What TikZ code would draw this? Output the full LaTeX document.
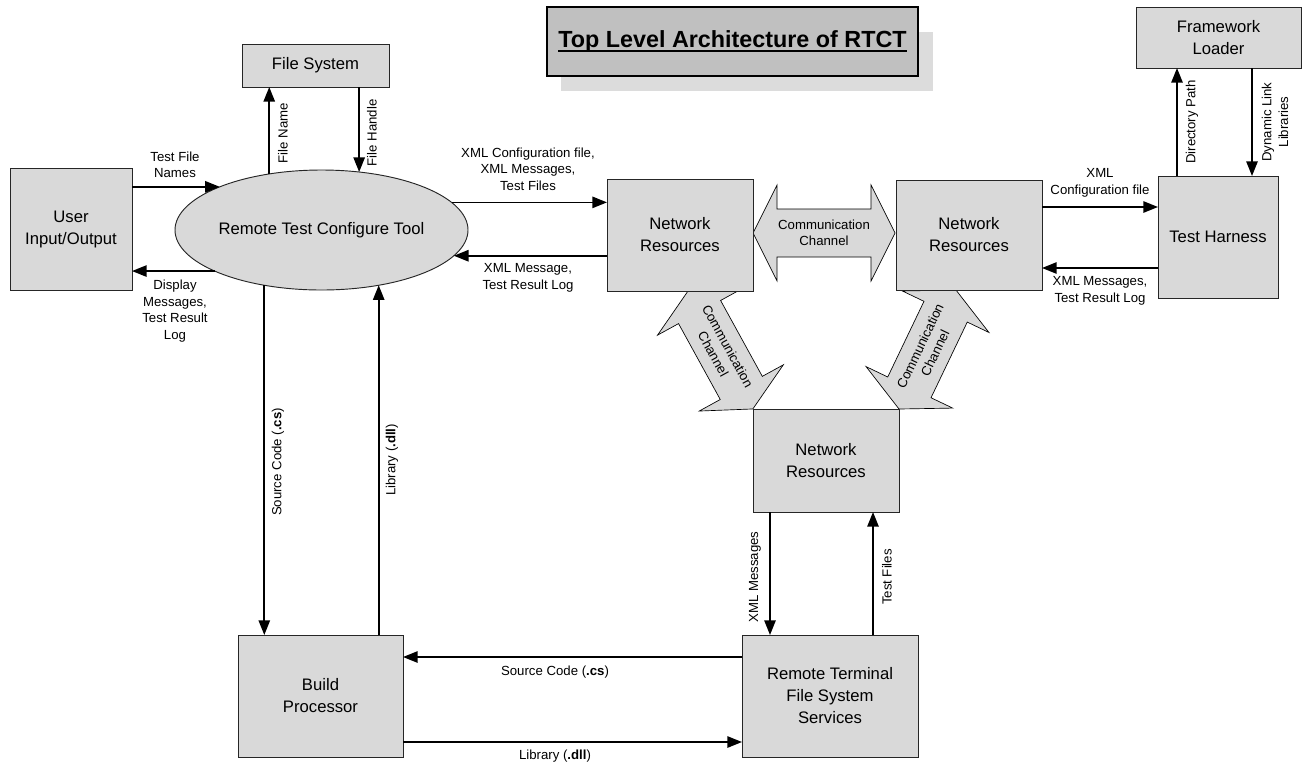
\documentclass[tikz,border=0pt]{standalone}
\usepackage{fontspec}
\setmainfont{Liberation Sans}
\usetikzlibrary{arrows.meta,shapes.geometric,calc}
\definecolor{boxgray}{RGB}{217,217,217}
\definecolor{titlegray}{RGB}{192,192,192}
\definecolor{shadowgray}{RGB}{220,220,220}
\newcommand\thickul[1]{\setbox0\hbox{#1}\rlap{\rule[-3.2pt]{\wd0}{1.5pt}}\box0}
\newcommand\chanarrow[3]{%
  \begin{scope}[shift={#1},rotate=#2]
    \draw[chan] (0,0) -- (24,48) -- (24,24) -- (#3-24,24) -- (#3-24,48) -- (#3,0)
      -- (#3-24,-48) -- (#3-24,-24) -- (24,-24) -- (24,-48) -- cycle;
  \end{scope}}
\begin{document}
\begin{tikzpicture}[x=0.75pt,y=-0.75pt,
  box/.style={draw=black!85, line width=0.7pt, fill=boxgray, inner sep=0pt, outer sep=0pt,
    align=center, font=\fontsize{12.5}{16.5}\selectfont},
  lbl/.style={align=center, inner sep=0pt, font=\fontsize{9.9}{12.4}\selectfont},
  arr/.style={line width=1.3pt, -{Triangle[length=11pt,width=8.5pt]}},
  chan/.style={draw=black, line width=0.5pt, fill=boxgray},
]
\useasboundingbox (0,0) rectangle (1308,765);

% title
\fill[shadowgray] (561,32) rectangle (933,91);
\node[draw=black, line width=0.8pt, fill=titlegray, inner sep=0pt, outer sep=0pt,
  minimum width=278.25pt, minimum height=51.75pt] (title) at (732.5,41.5)
  {\fontsize{17.5}{20}\selectfont\bfseries\thickul{Top Level Architecture of RTCT}};

% communication channels (drawn below the boxes)
\chanarrow{(753,233)}{0}{142}
\chanarrow{(688,291)}{-61.2}{134.6}
\chanarrow{(899,409)}{64.4}{131.9}
\node[lbl] (cc1) at (824,233) {Communication\\Channel};
\node[lbl, rotate=-61.2] (cc2) at (720.5,350) {Communication\\Channel};
\node[lbl, rotate=64.4] (cc3) at (927.5,349.5) {Communication\\Channel};

% boxes
\node[box, minimum width=110.25pt, minimum height=32.25pt] (fs) at (315.5,65.5) {File System};
\node[box, minimum width=91.5pt, minimum height=91.5pt] (uio) at (71,229) {User\\Input/Output};
\node[box, ellipse, minimum width=219.75pt, minimum height=90pt] (rtct) at (321.5,230) {};
\node[align=center, inner sep=0pt, font=\fontsize{12.5}{16.5}\selectfont] (rtcttext) at (rtct.center) {Remote Test Configure Tool};
\node[box, minimum width=109.5pt, minimum height=84pt] (nr1) at (680,235) {Network\\Resources};
\node[box, minimum width=109.5pt, minimum height=82.5pt] (nr2) at (969,235) {Network\\Resources};
\node[box, minimum width=90pt, minimum height=91.5pt] (th) at (1218,237) {Test Harness};
\node[box, minimum width=123.75pt, minimum height=45.75pt] (fl) at (1218.5,37.5) {Framework\\Loader};
\node[box, minimum width=109.5pt, minimum height=77.25pt] (nr3) at (826,460.5) {Network\\Resources};
\node[box, minimum width=123.75pt, minimum height=91.5pt] (bp) at (320.5,696) {Build\\Processor};
\node[box, minimum width=132pt, minimum height=91.5pt] (rt) at (830,696) {Remote Terminal\\File System\\Services};

% connectors
\draw[arr] (uio.east |- rtct.157.18) -- (rtct.157.18);
\draw[arr] (rtct.201.88) -- (uio.east |- rtct.201.88);
\draw[arr] (rtct.133.15) -- (fs.south -| rtct.133.15);
\draw[arr] (fs.south -| rtct.57.87) -- (rtct.57.87);
\draw[arr] (rtct.224.43) -- (bp.north -| rtct.224.43);
\draw[arr] (bp.north -| rtct.-44.43) -- (rtct.-44.43);
\draw[arr] (rtct.12.19) -- (nr1.west |- rtct.12.19);
\draw[arr] (nr1.west |- rtct.-11.66) -- (rtct.-11.66);
\coordinate (yA) at (0,207);
\coordinate (yB) at (0,268);
\draw[arr] (nr2.east |- yA) -- (th.west |- yA);
\draw[arr] (th.west |- yB) -- (nr2.east |- yB);
\coordinate (xA) at (1177,0);
\coordinate (xB) at (1252,0);
\draw[arr] (th.north -| xA) -- (fl.south -| xA);
\draw[arr] (fl.south -| xB) -- (th.north -| xB);
\coordinate (xC) at (770,0);
\coordinate (xD) at (873,0);
\draw[arr] (nr3.south -| xC) -- (rt.north -| xC);
\draw[arr] (rt.north -| xD) -- (nr3.south -| xD);
\coordinate (yC) at (0,657);
\coordinate (yD) at (0,742);
\draw[arr] (rt.west |- yC) -- (bp.east |- yC);
\draw[arr] (bp.east |- yD) -- (rt.west |- yD);

% labels
\node[lbl] (l1) at (175,165) {Test File\\Names};
\node[lbl] (l2) at (175,311) {Display\\Messages,\\Test Result\\Log};
\node[lbl, rotate=90] (l3) at (283,133) {File Name};
\node[lbl, rotate=90] (l4) at (372,133) {File Handle};
\node[lbl] (l5) at (528,169) {XML Configuration file,\\XML Messages,\\Test Files};
\node[lbl] (l6) at (528,278) {XML Message,\\Test Result Log};
\node[lbl] (l7) at (1100,183) {XML\\Configuration file};
\node[lbl] (l8) at (1100,291) {XML Messages,\\Test Result Log};
\node[lbl, rotate=90] (l9) at (1192,122) {Directory Path};
\node[lbl, rotate=90] (l10) at (1275,122) {Dynamic Link\\Libraries};
\node[lbl, rotate=90] (l11) at (278,462) {Source Code (\textbf{.cs})};
\node[lbl, rotate=90] (l12) at (392,460) {Library (\textbf{.dll})};
\node[lbl] (l13) at (555,672) {Source Code (\textbf{.cs})};
\node[lbl] (l14) at (555,756) {Library (\textbf{.dll})};
\node[lbl, rotate=90] (l15) at (755,577) {XML Messages};
\node[lbl, rotate=90] (l16) at (887,577) {Test Files};
\end{tikzpicture}
\end{document}
